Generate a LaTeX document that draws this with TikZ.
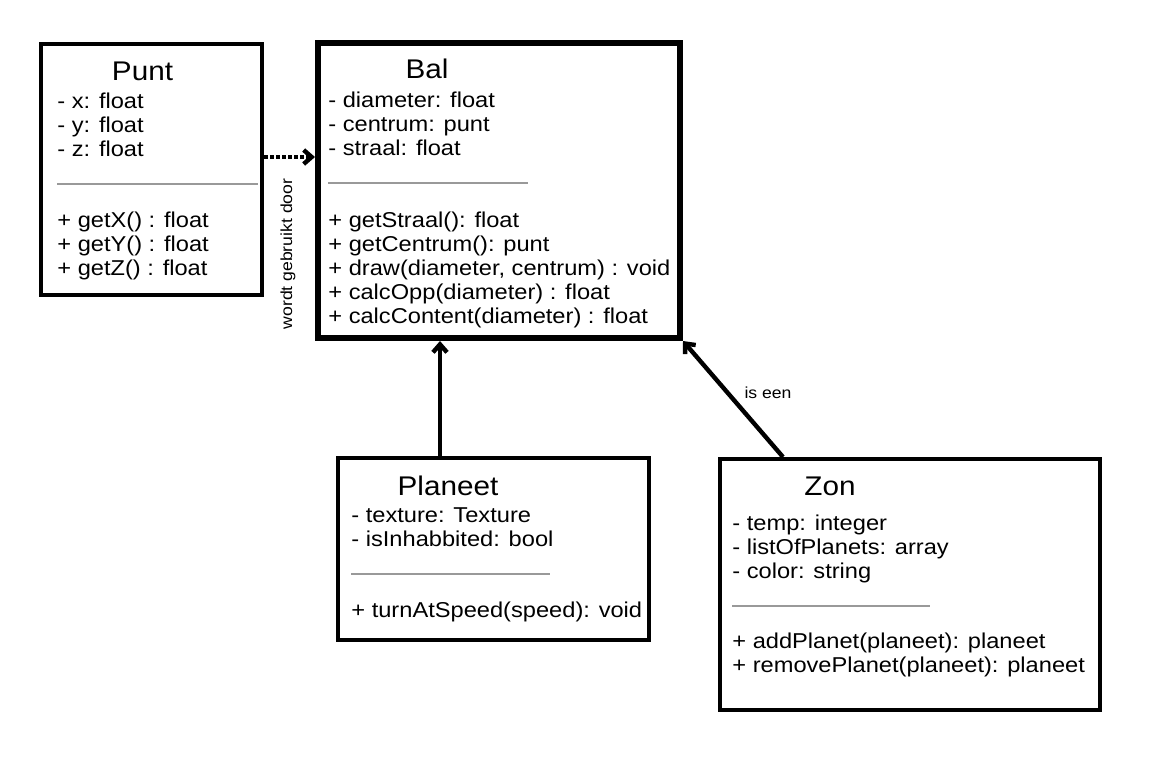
\documentclass[tikz,border=0pt]{standalone}
\usepackage{fontspec}
\setmainfont{Liberation Sans}[FakeStretch=1.1]
\usetikzlibrary{arrows.meta, positioning}

\newcommand{\members}[1]{\begin{tabular}[t]{@{}l@{}}#1\end{tabular}}

\begin{document}
\begin{tikzpicture}[
        x=0.5pt, y=-0.5pt,
        umlbox/.style={rectangle, draw, line width=2pt, inner sep=0pt},
        title/.style={font=\fontsize{13.5}{15}\selectfont, anchor=base, inner sep=0pt},
        member/.style={font=\fontsize{10.75}{12}\selectfont, anchor=base west, inner sep=0pt},
        divider/.style={draw=gray!80, line width=0.6pt},
        relation/.style={line width=2.2pt, -{Straight Barb[length=4pt, width=7pt]}},
        note/.style={font=\fontsize{8}{9}\selectfont, inner sep=0pt}
    ]
    \useasboundingbox (0,0) rectangle (1150,768);

    % Class boxes
    \node[umlbox, minimum width=110.5pt, minimum height=125.5pt] (punt) at (151.5,169.5) {};
    \node[umlbox, line width=3pt, minimum width=181pt, minimum height=147.5pt] (bal) at (499,190.5) {};
    \node[umlbox, minimum width=155.5pt, minimum height=91pt] (planeet) at (493.5,549) {};
    \node[umlbox, minimum width=190pt, minimum height=125.5pt] (zon) at (910,584.5) {};

    % Punt
    \node[title] (punt-name) at (142.5,80) {Punt};
    \node[member] (punt-attr) at (57,108) {\members{
            - x: float \\
            - y: float \\
            - z: float
        }};
    \draw[divider] (57,184) -- (258,184);
    \node[member] (punt-ops) at (57,227) {\members{
            + getX() : float \\
            + getY() : float \\
            + getZ() : float
        }};

    % Bal
    \node[title] (bal-name) at (427,78) {Bal};
    \node[member] (bal-attr) at (328,107) {\members{
            - diameter: float \\
            - centrum: punt   \\
            - straal: float
        }};
    \draw[divider] (328,183) -- (528,183);
    \node[member] (bal-ops) at (328,227) {\members{
            + getStraal(): float                \\
            + getCentrum(): punt                \\
            + draw(diameter, centrum) : void    \\
            + calcOpp(diameter) : float         \\
            + calcContent(diameter) : float
        }};

    % Planeet
    \node[title] (planeet-name) at (448,495) {Planeet};
    \node[member] (planeet-attr) at (351,522) {\members{
            - texture: Texture \\
            - isInhabbited: bool
        }};
    \draw[divider] (351,574) -- (550,574);
    \node[member] (planeet-ops) at (351,617) {\members{
            + turnAtSpeed(speed): void
        }};

    % Zon
    \node[title] (zon-name) at (830,495) {Zon};
    \node[member] (zon-attr) at (732,530) {\members{
            - temp: integer          \\
            - listOfPlanets: array   \\
            - color: string
        }};
    \draw[divider] (732,606) -- (930,606);
    \node[member] (zon-ops) at (732,648) {\members{
            + addPlanet(planeet): planeet \\
            + removePlanet(planeet): planeet
        }};

    % Relations
    \draw[relation, dash pattern=on 2pt off 1pt] (punt.east |- 0,157) -- (bal.west |- 0,157);
    \node[note, rotate=90] (uses-label) at (288,254) {wordt gebruikt door};

    \draw[relation] (planeet.north -| 440,0) -- (bal.south -| 440,0);
    \draw[relation] (zon.north -| 783,0) -- (bal.south east);
    \node[note] (isa-label) at (768,393) {is een};
\end{tikzpicture}
\end{document}
